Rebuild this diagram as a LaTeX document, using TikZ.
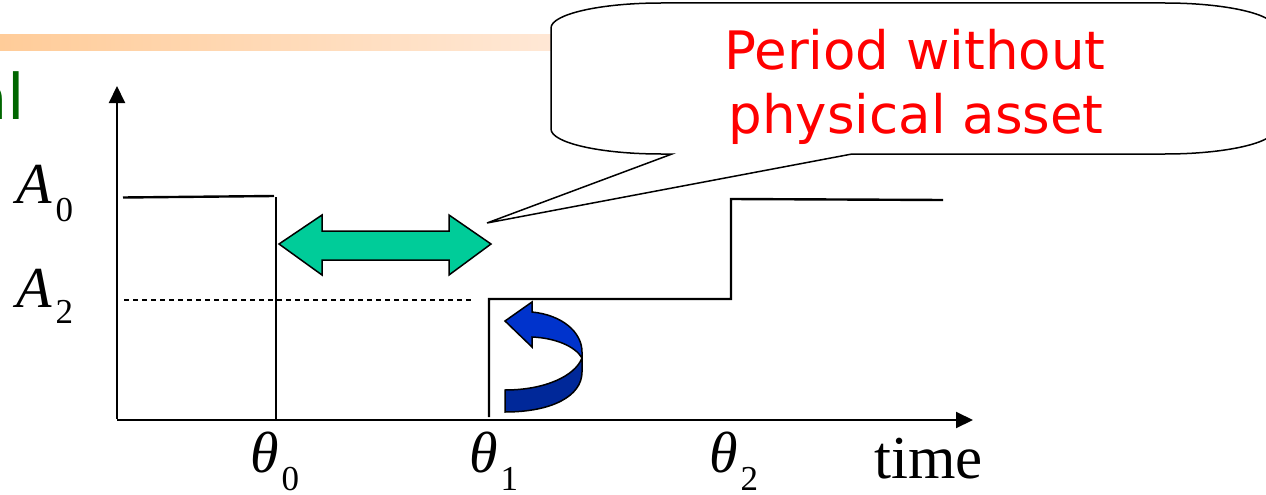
\documentclass[tikz,border=0pt]{standalone}
\usepackage{fontspec}
\setmainfont{Liberation Serif}
\newfontfamily\dejavu{DejaVu Sans}
\usetikzlibrary{arrows.meta}
\definecolor{callred}{RGB}{255,0,0}
\definecolor{titlegreen}{RGB}{0,102,0}
\definecolor{barleft}{RGB}{255,204,153}
\definecolor{barright}{RGB}{255,232,214}
\definecolor{dblgreen}{RGB}{0,204,153}
\definecolor{curvelight}{RGB}{0,51,204}
\definecolor{curvedark}{RGB}{0,40,153}
\begin{document}
\begin{tikzpicture}[x=1pt,y=-1pt,
  axis/.style={line width=2pt,-{Triangle[length=17pt,width=16pt]}},
  stepline/.style={line width=2.4pt},
  guide/.style={line width=1.2pt,dash pattern=on 5pt off 4pt},
  lab/.style={inner sep=0pt,anchor=base west,font=\fontsize{58}{60}\selectfont},
  calltext/.style={inner sep=0pt,anchor=base,text=callred,font=\dejavu\fontsize{53}{60}\selectfont},
  shapeline/.style={draw=black,line width=1.5pt,line join=miter},
]
\useasboundingbox (0,0) rectangle (1266,495);
\clip (0,0) rectangle (1266,495);
% orange title bar
\shade[left color=barleft,right color=barright] (0,35) rectangle (560,51);
\node[inner sep=0pt,anchor=base east,text=titlegreen,font=\dejavu\fontsize{63}{70}\selectfont] (title) at (25.5,119) {al};
% callout
\draw[fill=white,line width=1.5pt] (672,154) -- (487,223) -- (852,154) -- (1165,154)
  .. controls (1225.7,154) and (1275,142.8) .. (1275,129) -- (1275,28)
  .. controls (1275,14.2) and (1225.7,3) .. (1165,3) -- (661,3)
  .. controls (600.3,3) and (551,14.2) .. (551,28) -- (551,129)
  .. controls (551,142.8) and (600.3,154) .. (661,154) -- cycle;
\node[calltext] (call1) at (915,70) {Period without};
\node[calltext] (call2) at (916,133) {physical asset};
% axes
\coordinate (O) at (117,420);
\coordinate (ybot) at (117,419);
\coordinate (ytip) at (117,86);
\coordinate (xtip) at (973,420);
\draw[axis] (ybot) -- (ytip);
\draw[axis] (O) -- (xtip);
% value path
\coordinate (a0s) at (123,197.5);
\coordinate (a0e) at (274,196);
\coordinate (t0top) at (276,197);
\coordinate (t0bot) at (276,420);
\draw[stepline] (a0s) -- (a0e);
\draw[line width=2pt] (t0top) -- (t0bot);
\coordinate (t1bot) at (489,417);
\coordinate (t1top) at (489,299);
\coordinate (t2bot) at (731,299);
\coordinate (t2top) at (731,199);
\coordinate (endv) at (943,200);
\draw[stepline] (t1bot) -- (t1top) -- (t2bot) -- (t2top) -- (endv);
\coordinate (dashs) at (124,300);
\coordinate (dashe) at (473,300);
\draw[guide] (dashs) -- (dashe);
% green double arrow
\draw[shapeline,fill=dblgreen] (279,244) -- (322,215) -- (322,231) -- (449,231) -- (449,215)
  -- (491,244) -- (449,275) -- (449,260) -- (322,260) -- (322,275) -- cycle;
% blue curved arrow
\draw[shapeline,fill=curvedark] (582,358) .. controls (575,376) and (545,390) .. (505,390)
  -- (505,412) .. controls (552,412) and (582,396) .. (582,372) -- cycle;
\draw[shapeline,fill=curvelight] (505,321) -- (532,302) -- (532,312)
  .. controls (562,315) and (582,332) .. (582,352) -- (582,358)
  .. controls (575,346) and (555,338) .. (532,337) -- (532,347) -- cycle;
% labels
\node[lab] (A0) at (16,203) {\itshape A\kern4pt\raisebox{-18pt}{\fontsize{35}{35}\selectfont\upshape 0}};
\node[lab] (A2) at (16,307) {\itshape A\kern4pt\raisebox{-16pt}{\fontsize{35}{35}\selectfont\upshape 2}};
\node[lab] (th0) at (250,472) {\itshape θ\kern3pt\raisebox{-18pt}{\fontsize{35}{35}\selectfont\upshape 0}};
\node[lab] (th1) at (469,472) {\itshape θ\kern3pt\raisebox{-18pt}{\fontsize{35}{35}\selectfont\upshape 1}};
\node[lab] (th2) at (709,472) {\itshape θ\kern3pt\raisebox{-18pt}{\fontsize{35}{35}\selectfont\upshape 2}};
\node[lab,font=\fontsize{61}{62}\selectfont] (time) at (874,478) {time};
\end{tikzpicture}
\end{document}
